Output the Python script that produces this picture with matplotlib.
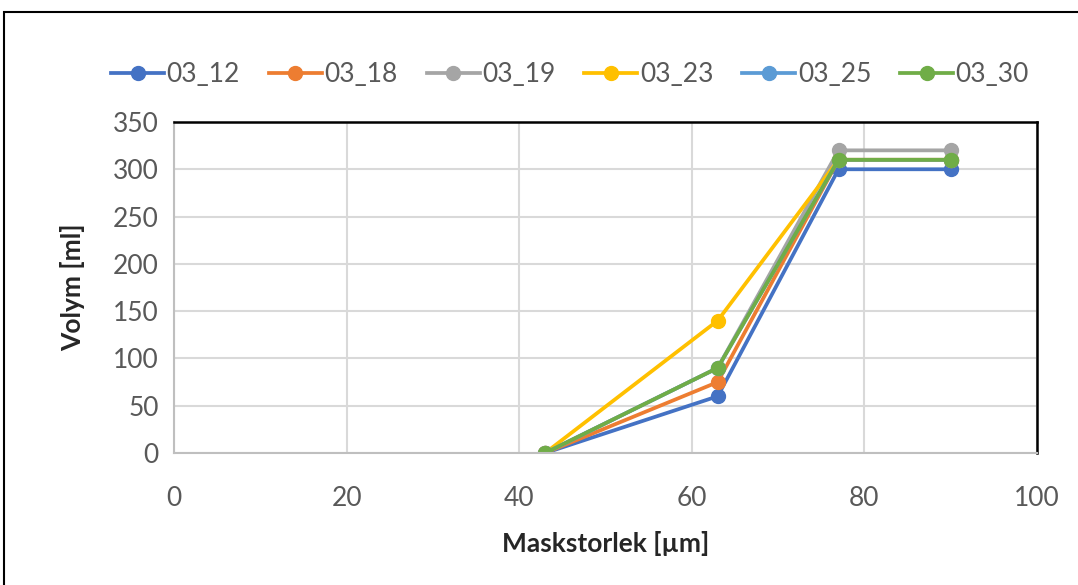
import numpy as np
import matplotlib.pyplot as plt
from matplotlib.patches import Rectangle

plt.rcParams['font.family'] = ['Lato', 'DejaVu Sans']

# mesh sizes [um]
x = [43, 63, 77, 90]

# volumes [ml]
v_03_12 = [0, 60, 300, 300]
v_03_18 = [0, 75, 310, 310]
v_03_19 = [0, 90, 320, 320]
v_03_23 = [0, 140, 310, 310]
v_03_25 = [0, 90, 310, 310]
v_03_30 = [0, 90, 310, 310]

names = ['03_12', '03_18', '03_19', '03_23', '03_25', '03_30']
series = [v_03_12, v_03_18, v_03_19, v_03_23, v_03_25, v_03_30]
colors = ['#4472C4', '#ED7D31', '#A5A5A5', '#FFC000', '#5B9BD5', '#70AD47']

fig = plt.figure(figsize=(10.78, 5.85), dpi=100)
ax = fig.add_axes([0.1614, 0.2256, 0.962 - 0.1614, 0.7915 - 0.2256])

for name, vals, c in zip(names, series, colors):
	ax.plot(x, vals, color=c, lw=2.7, marker='o', ms=10, label=name)

ax.set_xlim(0, 100)
ax.set_ylim(0, 350)
ax.set_xticks(np.arange(0, 101, 20))
ax.set_yticks(np.arange(0, 351, 50))
ax.grid(True, color='#D9D9D9', lw=1.5)
ax.set_axisbelow(True)
ax.tick_params(length=0, labelsize=19, labelcolor='#595959')
ax.tick_params(axis='x', pad=24)
ax.tick_params(axis='y', pad=11)

for s in ['top', 'right']:
	ax.spines[s].set_color('black')
	ax.spines[s].set_linewidth(1.8)
for s in ['left', 'bottom']:
	ax.spines[s].set_color('#BFBFBF')
	ax.spines[s].set_linewidth(1.5)

ax.set_xlabel('Maskstorlek [µm]', fontsize=19, fontweight='bold', color='#262626', labelpad=14)
ax.set_ylabel('Volym [ml]', fontsize=19, fontweight='bold', color='#262626', labelpad=20)

ax.legend(loc='center', bbox_to_anchor=(0.459, 1 + 47 / 331), ncol=6, frameon=False,
	fontsize=19, labelcolor='#595959', handlelength=2.0, handletextpad=0.1,
	columnspacing=1.1, borderaxespad=0)

# outer chart border
fig.patches.append(Rectangle((4 / 1078, -0.1), 1.2, 1 - 12 / 585 + 0.1,
	transform=fig.transFigure, fill=False, ec='black', lw=1.5))

plt.savefig('out.png', dpi=100)
